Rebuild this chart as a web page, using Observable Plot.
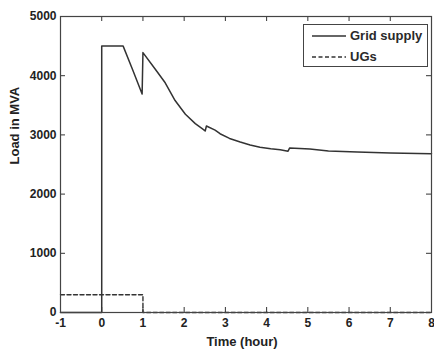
<!DOCTYPE html>
<html>
<head>
<meta charset="utf-8">
<script src="https://cdn.jsdelivr.net/npm/d3@7"></script>
<script src="https://cdn.jsdelivr.net/npm/@observablehq/plot@0.6"></script>
<style>
  body { margin: 0; background: #fff; }
  #wrap { position: relative; width: 434px; height: 350px; font-family: "Liberation Sans", Arial, sans-serif; }
  #legend { position: absolute; left: 303px; top: 24px; width: 125px; height: 43px; border: 1px solid #444; background: #fff; box-sizing: border-box; }
  #legend .row { position: absolute; left: 0; display: flex; align-items: center; font-weight: bold; font-size: 13px; color: #2a2a2a; }
  #legend svg { margin-left: 8px; margin-right: 4px; }
</style>
</head>
<body>
<div id="wrap"></div>
<script>
// Data
const gridTime = [-1, 0, 0, 0.52, 0.75, 0.98, 1.0, 1.3, 1.54, 1.78, 2.03, 2.27, 2.47, 2.51, 2.54, 2.75, 2.87, 3.1, 3.36, 3.6, 3.84, 4.1, 4.33, 4.52, 4.56, 5.05, 5.5, 6.2, 7.0, 8];
const gridLoad = [0, 0, 4500, 4500, 4100, 3690, 4390, 4110, 3880, 3580, 3350, 3190, 3090, 3065, 3150, 3080, 3020, 2940, 2880, 2830, 2790, 2765, 2748, 2725, 2780, 2760, 2730, 2710, 2695, 2680];
const ugTime = [-1, 1, 1, 8];
const ugLoad = [300, 300, 0, 0];
const xTicks = [-1, 0, 1, 2, 3, 4, 5, 6, 7, 8];
const yTicks = [0, 1000, 2000, 3000, 4000, 5000];
const seriesNames = ["Grid supply", "UGs"];
const xLabel = "Time (hour)";
const yLabel = "Load in MVA";

const grid = gridTime.map((t, i) => ({t, v: gridLoad[i]}));
const ugs = ugTime.map((t, i) => ({t, v: ugLoad[i]}));

const W = 434, H = 350, mt = 16, mb = 38, ml = 60, mr = 3;
const ph = H - mt - mb, pw = W - ml - mr, tk = 5;
const ink = "#333";

const chart = Plot.plot({
  width: W, height: H,
  marginTop: mt, marginBottom: mb, marginLeft: ml, marginRight: mr,
  style: {fontFamily: "'Liberation Sans', Arial, sans-serif", fontWeight: "bold", fontSize: "12px", color: "#222", background: "#fff"},
  x: {domain: [-1, 8]},
  y: {domain: [0, 5000]},
  marks: [
    Plot.axisX(xTicks, {tickSize: 0, tickPadding: 6, tickFormat: d => String(d), label: null, fontSize: 12, fontWeight: "bold"}),
    Plot.axisY(yTicks, {tickSize: 0, tickPadding: 4, tickFormat: d => String(d), label: null, fontSize: 12, fontWeight: "bold"}),
    // inward ticks bottom/top
    Plot.ruleX(xTicks, {x: d => d, insetTop: ph - tk, stroke: ink}),
    Plot.ruleX(xTicks, {x: d => d, insetBottom: ph - tk, stroke: ink}),
    // inward ticks left/right
    Plot.ruleY(yTicks, {y: d => d, insetRight: pw - tk, stroke: ink}),
    Plot.ruleY(yTicks, {y: d => d, insetLeft: pw - tk, stroke: ink}),
    Plot.line(ugs, {x: "t", y: "v", stroke: ink, strokeWidth: 1.4, strokeDasharray: "4,2.5"}),
    Plot.line(grid, {x: "t", y: "v", stroke: ink, strokeWidth: 1.5, strokeLinejoin: "round"}),
    Plot.frame({stroke: "#444", strokeWidth: 1.2}),
    Plot.text([xLabel], {frameAnchor: "bottom", dy: 33, dx: -4, fontSize: 13, fontWeight: "bold", fill: "#222"}),
    Plot.text([yLabel], {frameAnchor: "left", dx: -46, rotate: -90, fontSize: 13, fontWeight: "bold", fill: "#222"})
  ]
});
const wrap = document.getElementById("wrap");
wrap.appendChild(chart);

const legend = document.createElement("div");
legend.id = "legend";
const dashes = ["", "4,2.5"];
seriesNames.forEach((name, i) => {
  const row = document.createElement("div");
  row.className = "row";
  row.style.top = (i === 0 ? 3 : 24) + "px";
  row.innerHTML = `<svg width="34" height="14"><line x1="0" x2="34" y1="7" y2="7" stroke="${ink}" stroke-width="1.4" ${dashes[i] ? `stroke-dasharray="${dashes[i]}"` : ""}/></svg><span>${name}</span>`;
  legend.appendChild(row);
});
wrap.appendChild(legend);
</script>
</body>
</html>
